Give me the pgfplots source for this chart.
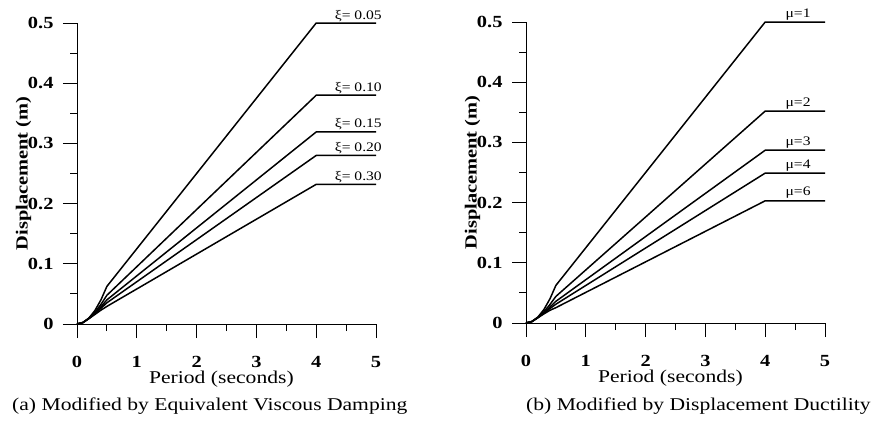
\documentclass[border=0pt]{standalone}
\usepackage{fontspec}
\setmainfont{Liberation Serif}[FakeStretch=1.2]
\usepackage{pgfplots}
\pgfplotsset{compat=1.18}

\tikzset{lab/.style={font=\fontsize{13bp}{15bp}\selectfont, inner sep=0pt}}
\pgfplotsset{
 myax/.style={
  width=299bp, height=301bp, scale only axis,
  xmin=0, xmax=5, ymin=0, ymax=0.5,
  axis x line*=bottom, axis y line*=left,
  axis line style={-, line width=1pt, black},
  tick align=outside,
  major tick length=14bp, minor tick length=7bp,
  every tick/.style={line width=1pt, black},
  xtick={0,1,2,3,4,5}, xticklabels={0,1,2,3,4,5},
  ytick={0,0.1,0.2,0.3,0.4,0.5}, yticklabels={0,0.1,0.2,0.3,0.4,0.5},
  minor x tick num=1, minor y tick num=1,
  /pgf/number format/assume math mode=true,
  ticklabel style={font=\bfseries\fontsize{17bp}{20bp}\selectfont},
  yticklabel style={xshift=-6bp},
  xticklabel style={anchor=base, yshift=-29bp, inner sep=0.5bp},
  xlabel={Period (seconds)},
  ylabel={Displacement (m)},
  xlabel style={font=\fontsize{18bp}{20bp}\selectfont, at={(axis description cs:0.483,-0.198)}, anchor=base, inner sep=0pt},
  ylabel style={font=\bfseries\fontsize{17bp}{20bp}\selectfont, at={(axis description cs:-0.205,0.5)}, anchor=north, inner sep=0pt},
  clip=false,
  cycle list={{black}},
  every axis plot/.append style={line width=1.5pt, black, no marks},
 },
}

\begin{document}
\begin{tikzpicture}
\useasboundingbox (0,0) rectangle (879bp,-423bp);

% ---------- (a) ----------
\begin{axis}[myax, at={(77bp,-324bp)}, anchor=south west]
\addplot coordinates {(0,0) (0.1,0.0025) (0.2,0.01) (0.3,0.0225) (0.4,0.04) (0.5,0.0625) (4,0.5) (5,0.5)};
\addplot coordinates {(0,0) (0.1,0.0025) (0.2,0.00953) (0.3,0.01958) (0.4,0.03245) (0.5,0.04775) (4,0.380) (5,0.380)};
\addplot coordinates {(0,0) (0.1,0.0025) (0.2,0.00928) (0.3,0.01807) (0.4,0.02854) (0.5,0.04013) (4,0.319) (5,0.319)};
\addplot coordinates {(0,0) (0.1,0.0025) (0.2,0.00913) (0.3,0.0171) (0.4,0.02605) (0.5,0.03525) (4,0.280) (5,0.280)};
\addplot coordinates {(0,0) (0.1,0.0025) (0.2,0.00894) (0.3,0.01592) (0.4,0.02298) (0.5,0.02925) (4,0.232) (5,0.232)};
\node[lab, anchor=base east, yshift=4bp] at (axis cs:5.1,0.5) {ξ= 0.05};
\node[lab, anchor=base east, yshift=4bp] at (axis cs:5.1,0.380) {ξ= 0.10};
\node[lab, anchor=base east, yshift=4bp] at (axis cs:5.1,0.319) {ξ= 0.15};
\node[lab, anchor=base east, yshift=4bp] at (axis cs:5.1,0.280) {ξ= 0.20};
\node[lab, anchor=base east, yshift=4bp] at (axis cs:5.1,0.232) {ξ= 0.30};
\end{axis}

% ---------- (b) ----------
\begin{axis}[myax, at={(526bp,-323bp)}, anchor=south west]
\addplot coordinates {(0,0) (0.1,0.0025) (0.2,0.01) (0.3,0.0225) (0.4,0.04) (0.5,0.0625) (4,0.5) (5,0.5)};
\addplot coordinates {(0,0) (0.1,0.0025) (0.2,0.00941) (0.3,0.01888) (0.4,0.03062) (0.5,0.04419) (4,0.352) (5,0.352)};
\addplot coordinates {(0,0) (0.1,0.0025) (0.2,0.00915) (0.3,0.01727) (0.4,0.02646) (0.5,0.03606) (4,0.287) (5,0.287)};
\addplot coordinates {(0,0) (0.1,0.0025) (0.2,0.009) (0.3,0.01631) (0.4,0.024) (0.5,0.03125) (4,0.249) (5,0.249)};
\addplot coordinates {(0,0) (0.1,0.0025) (0.2,0.00882) (0.3,0.01517) (0.4,0.02106) (0.5,0.0255) (4,0.203) (5,0.203)};
\node[lab, anchor=base, yshift=5bp] at (axis cs:4.55,0.5) {μ=1};
\node[lab, anchor=base, yshift=5bp] at (axis cs:4.55,0.352) {μ=2};
\node[lab, anchor=base, yshift=5bp] at (axis cs:4.55,0.287) {μ=3};
\node[lab, anchor=base, yshift=5bp] at (axis cs:4.55,0.249) {μ=4};
\node[lab, anchor=base, yshift=5bp] at (axis cs:4.55,0.203) {μ=6};
\end{axis}

\node[anchor=base west, inner sep=0pt, font=\fontsize{18bp}{20bp}\selectfont] at (12bp,-410bp) {(a) Modified by Equivalent Viscous Damping};
\node[anchor=base west, inner sep=0pt, font=\fontsize{18bp}{20bp}\selectfont] at (526bp,-410bp) {(b) Modified by Displacement Ductility};
\end{tikzpicture}
\end{document}
